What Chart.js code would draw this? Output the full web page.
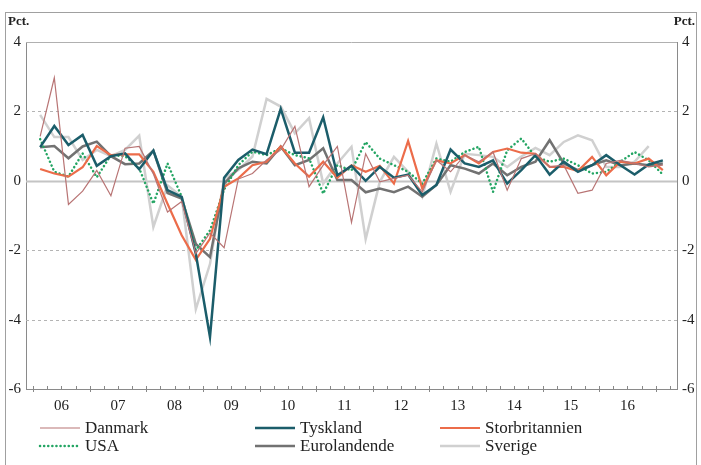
<!DOCTYPE html>
<html>
<head>
<meta charset="utf-8">
<script src="https://cdn.jsdelivr.net/npm/chart.js@4.4.1/dist/chart.umd.min.js"></script>
<style>
  html, body { margin: 0; padding: 0; background: #fff; }
  #wrap { width: 701px; height: 465px; }
</style>
</head>
<body>
<div id="wrap"><canvas id="growthChart" width="701" height="465"></canvas></div>
<script>
// Quarterly growth, pct., 2006K1 - 2017K1 (index 0 = 2006K1)
const yearLabels = ["06", "07", "08", "09", "10", "11", "12", "13", "14", "15", "16"];

const danmark = [1.28, 2.97, -0.68, -0.3, 0.3, -0.43, 0.94, 0.99, 0.2, -0.9, -0.6, -2.1, -1.5, -1.93, 0.05,
  0.21, 0.6, 0.89, 1.57, -0.17, 0.45, 0.99, -1.2, 0.78, -0.03, 0.07, 0.16, -0.32, 0.59, 0.26,
  0.74, 0.55, 0.83, -0.27, 0.64, 0.78, 0.4, 0.45, -0.36, -0.27, 0.5, 0.59, 0.5, 0.4, 0.45];
const tyskland = [0.97, 1.58, 1.03, 1.32, 0.43, 0.71, 0.79, 0.33, 0.87, -0.27, -0.46, -2.1, -4.5, 0.09, 0.6,
  0.9, 0.77, 2.07, 0.81, 0.81, 1.83, 0.16, 0.43, 0.0, 0.4, 0.09, 0.18, -0.41, -0.12, 0.9,
  0.5, 0.4, 0.59, -0.08, 0.31, 0.74, 0.18, 0.55, 0.26, 0.45, 0.74, 0.45, 0.18, 0.47, 0.59];
const storbritannien = [0.34, 0.21, 0.12, 0.39, 1.0, 0.74, 0.76, 0.76, 0.26, -0.66, -1.57, -2.28, -1.67, -0.17, 0.07,
  0.45, 0.55, 0.99, 0.5, 0.12, 0.55, 0.09, 0.45, 0.26, 0.43, -0.08, 1.15, -0.22, 0.59, 0.5,
  0.74, 0.5, 0.83, 0.93, 0.81, 0.78, 0.4, 0.4, 0.28, 0.69, 0.16, 0.55, 0.5, 0.64, 0.31];
const usa = [1.2, 0.26, 0.12, 0.79, 0.1, 0.74, 0.71, 0.36, -0.66, 0.5, -0.46, -2.0, -1.43, -0.25, 0.45,
  0.84, 0.74, 0.94, 0.74, 0.65, -0.37, 0.45, 0.3, 1.12, 0.64, 0.45, 0.26, -0.08, 0.64, 0.55,
  0.83, 0.98, -0.32, 0.88, 1.22, 0.69, 0.55, 0.64, 0.45, 0.21, 0.26, 0.55, 0.83, 0.59, 0.18];
const eurolandende = [0.97, 1.0, 0.65, 0.99, 1.13, 0.71, 0.48, 0.5, 0.87, -0.35, -0.51, -1.82, -2.2, -0.08, 0.36,
  0.55, 0.5, 0.99, 0.45, 0.6, 0.94, 0.02, 0.02, -0.33, -0.22, -0.33, -0.17, -0.46, -0.12, 0.45,
  0.35, 0.21, 0.5, 0.16, 0.4, 0.55, 1.17, 0.5, 0.31, 0.45, 0.59, 0.45, 0.5, 0.45, 0.5];
const sverige = [1.9, 1.26, 1.26, 0.6, 0.89, 0.71, 0.89, 1.3, -1.33, -0.13, -0.46, -3.7, -2.4, 0.07, 0.31,
  0.7, 2.36, 2.14, 1.37, 1.81, -0.08, 0.5, 0.98, -1.68, -0.03, 0.69, 0.26, -0.46, 1.07, -0.32,
  0.78, 0.74, 0.69, 0.4, 0.7, 0.95, 0.74, 1.12, 1.31, 1.17, 0.4, 0.4, 0.55, 1.0, null];

const yTicks = [4, 2, 0, -2, -4, -6];

const FONT = "'Liberation Serif', 'DejaVu Serif', serif";

function toPoints(values) {
  return values.map((v, i) => ({ x: i, y: v }));
}

// frame, "Pct." labels, gridlines, quarter tick marks and legend
const decorPlugin = {
  id: "decor",
  beforeDraw(chart) {
    const ctx = chart.ctx;
    ctx.save();
    ctx.fillStyle = "#fff";
    ctx.fillRect(0, 0, chart.width, chart.height);
    ctx.strokeStyle = "#a0a0a0";
    ctx.lineWidth = 1;
    ctx.strokeRect(5.5, 12.5, 691, 470);
    ctx.fillStyle = "#222";
    ctx.font = "bold 13px " + FONT;
    ctx.textBaseline = "middle";
    ctx.textAlign = "left";
    ctx.fillText("Pct.", 8, 22);
    ctx.textAlign = "right";
    ctx.fillText("Pct.", 695, 22);
    ctx.restore();
  },
  beforeDatasetsDraw(chart) {
    const ctx = chart.ctx;
    const area = chart.chartArea;
    const y = chart.scales.y;
    ctx.save();
    yTicks.forEach(v => {
      const py = Math.round(y.getPixelForValue(v)) + 0.5;
      if (v === -6) return;
      ctx.beginPath();
      if (v === 0) {
        ctx.strokeStyle = "#c4c4c4";
        ctx.lineWidth = 2;
        ctx.setLineDash([]);
      } else if (v === 4) {
        ctx.strokeStyle = "#b0b0b0";
        ctx.lineWidth = 1;
        ctx.setLineDash([]);
      } else {
        ctx.strokeStyle = "#b4b4b4";
        ctx.lineWidth = 1;
        ctx.setLineDash([3, 3]);
      }
      ctx.moveTo(area.left, py);
      ctx.lineTo(area.right, py);
      ctx.stroke();
    });
    ctx.restore();
  },
  afterDraw(chart) {
    const ctx = chart.ctx;
    const area = chart.chartArea;
    const x = chart.scales.x;
    ctx.save();
    // quarter tick marks on the bottom axis
    ctx.strokeStyle = "#888";
    ctx.lineWidth = 1;
    for (let q = 0; q <= 45; q++) {
      const px = Math.round(x.getPixelForValue(q - 0.5)) + 0.5;
      if (px <= area.left + 1 || px >= area.right - 1) continue;
      const big = (q % 4 === 0);
      ctx.beginPath();
      ctx.moveTo(px, area.bottom - 3);
      ctx.lineTo(px, area.bottom + (big ? 3 : 0));
      ctx.stroke();
    }
    // legend, 3 columns x 2 rows
    const cols = [40, 255, 440];
    const rows = [428, 446];
    ctx.font = "17px " + FONT;
    ctx.textBaseline = "middle";
    ctx.textAlign = "left";
    chart.data.datasets.forEach((ds, i) => {
      const cx = cols[i % 3];
      const cy = rows[Math.floor(i / 3)];
      ctx.beginPath();
      ctx.strokeStyle = ds.borderColor;
      ctx.lineWidth = ds.borderWidth;
      ctx.lineCap = ds.borderCapStyle || "butt";
      ctx.setLineDash(ds.borderDash || []);
      ctx.moveTo(cx, cy);
      ctx.lineTo(cx + 40, cy);
      ctx.stroke();
      ctx.setLineDash([]);
      ctx.fillStyle = "#222";
      ctx.fillText(ds.label, cx + 45, cy + 1);
    });
    ctx.restore();
  }
};

function initializeChart() {
  const ctx = document.getElementById("growthChart").getContext("2d");
  new Chart(ctx, {
    type: "line",
    data: {
      datasets: [
        { label: "Danmark", data: toPoints(danmark), borderColor: "#b87474", borderWidth: 1.2 },
        { label: "Tyskland", data: toPoints(tyskland), borderColor: "#1b5d6a", borderWidth: 2.5 },
        { label: "Storbritannien", data: toPoints(storbritannien), borderColor: "#ec6c4a", borderWidth: 2.2 },
        { label: "USA", data: toPoints(usa), borderColor: "#23a563", borderWidth: 2.5,
          borderDash: [0.1, 4], borderCapStyle: "round" },
        { label: "Eurolandende", data: toPoints(eurolandende), borderColor: "#727272", borderWidth: 2.5 },
        { label: "Sverige", data: toPoints(sverige), borderColor: "#d0d0d0", borderWidth: 2.5 }
      ]
    },
    options: {
      responsive: false,
      animation: false,
      layout: { padding: { left: 0, right: 0, top: 42, bottom: 46 } },
      elements: {
        point: { radius: 0 },
        line: { tension: 0, fill: false }
      },
      plugins: {
        legend: { display: false },
        tooltip: { enabled: false }
      },
      scales: {
        x: {
          type: "linear",
          min: -1,
          max: 45,
          afterFit(scale) { scale.height = 30; },
          afterBuildTicks(scale) {
            scale.ticks = yearLabels.map((_, k) => ({ value: 1.5 + 4 * k }));
          },
          ticks: {
            autoSkip: false,
            maxRotation: 0,
            padding: 8,
            color: "#222",
            font: { family: FONT, size: 15 },
            callback: (value) => yearLabels[Math.round((value - 1.5) / 4)]
          },
          grid: { display: false, drawTicks: false },
          border: { display: true, color: "#8a8a8a", width: 1 }
        },
        y: {
          position: "left",
          min: -6,
          max: 4,
          afterFit(scale) { scale.width = 26; },
          afterBuildTicks(scale) { scale.ticks = yTicks.map(v => ({ value: v })); },
          ticks: { padding: 5, color: "#222", font: { family: FONT, size: 15 } },
          grid: { display: false, drawTicks: false },
          border: { display: true, color: "#8a8a8a", width: 1 }
        },
        y2: {
          position: "right",
          min: -6,
          max: 4,
          afterFit(scale) { scale.width = 24; },
          afterBuildTicks(scale) { scale.ticks = yTicks.map(v => ({ value: v })); },
          ticks: { padding: 5, color: "#222", font: { family: FONT, size: 15 } },
          grid: { display: false, drawTicks: false },
          border: { display: true, color: "#8a8a8a", width: 1 }
        }
      }
    },
    plugins: [decorPlugin]
  });
}

initializeChart();
</script>
</body>
</html>
